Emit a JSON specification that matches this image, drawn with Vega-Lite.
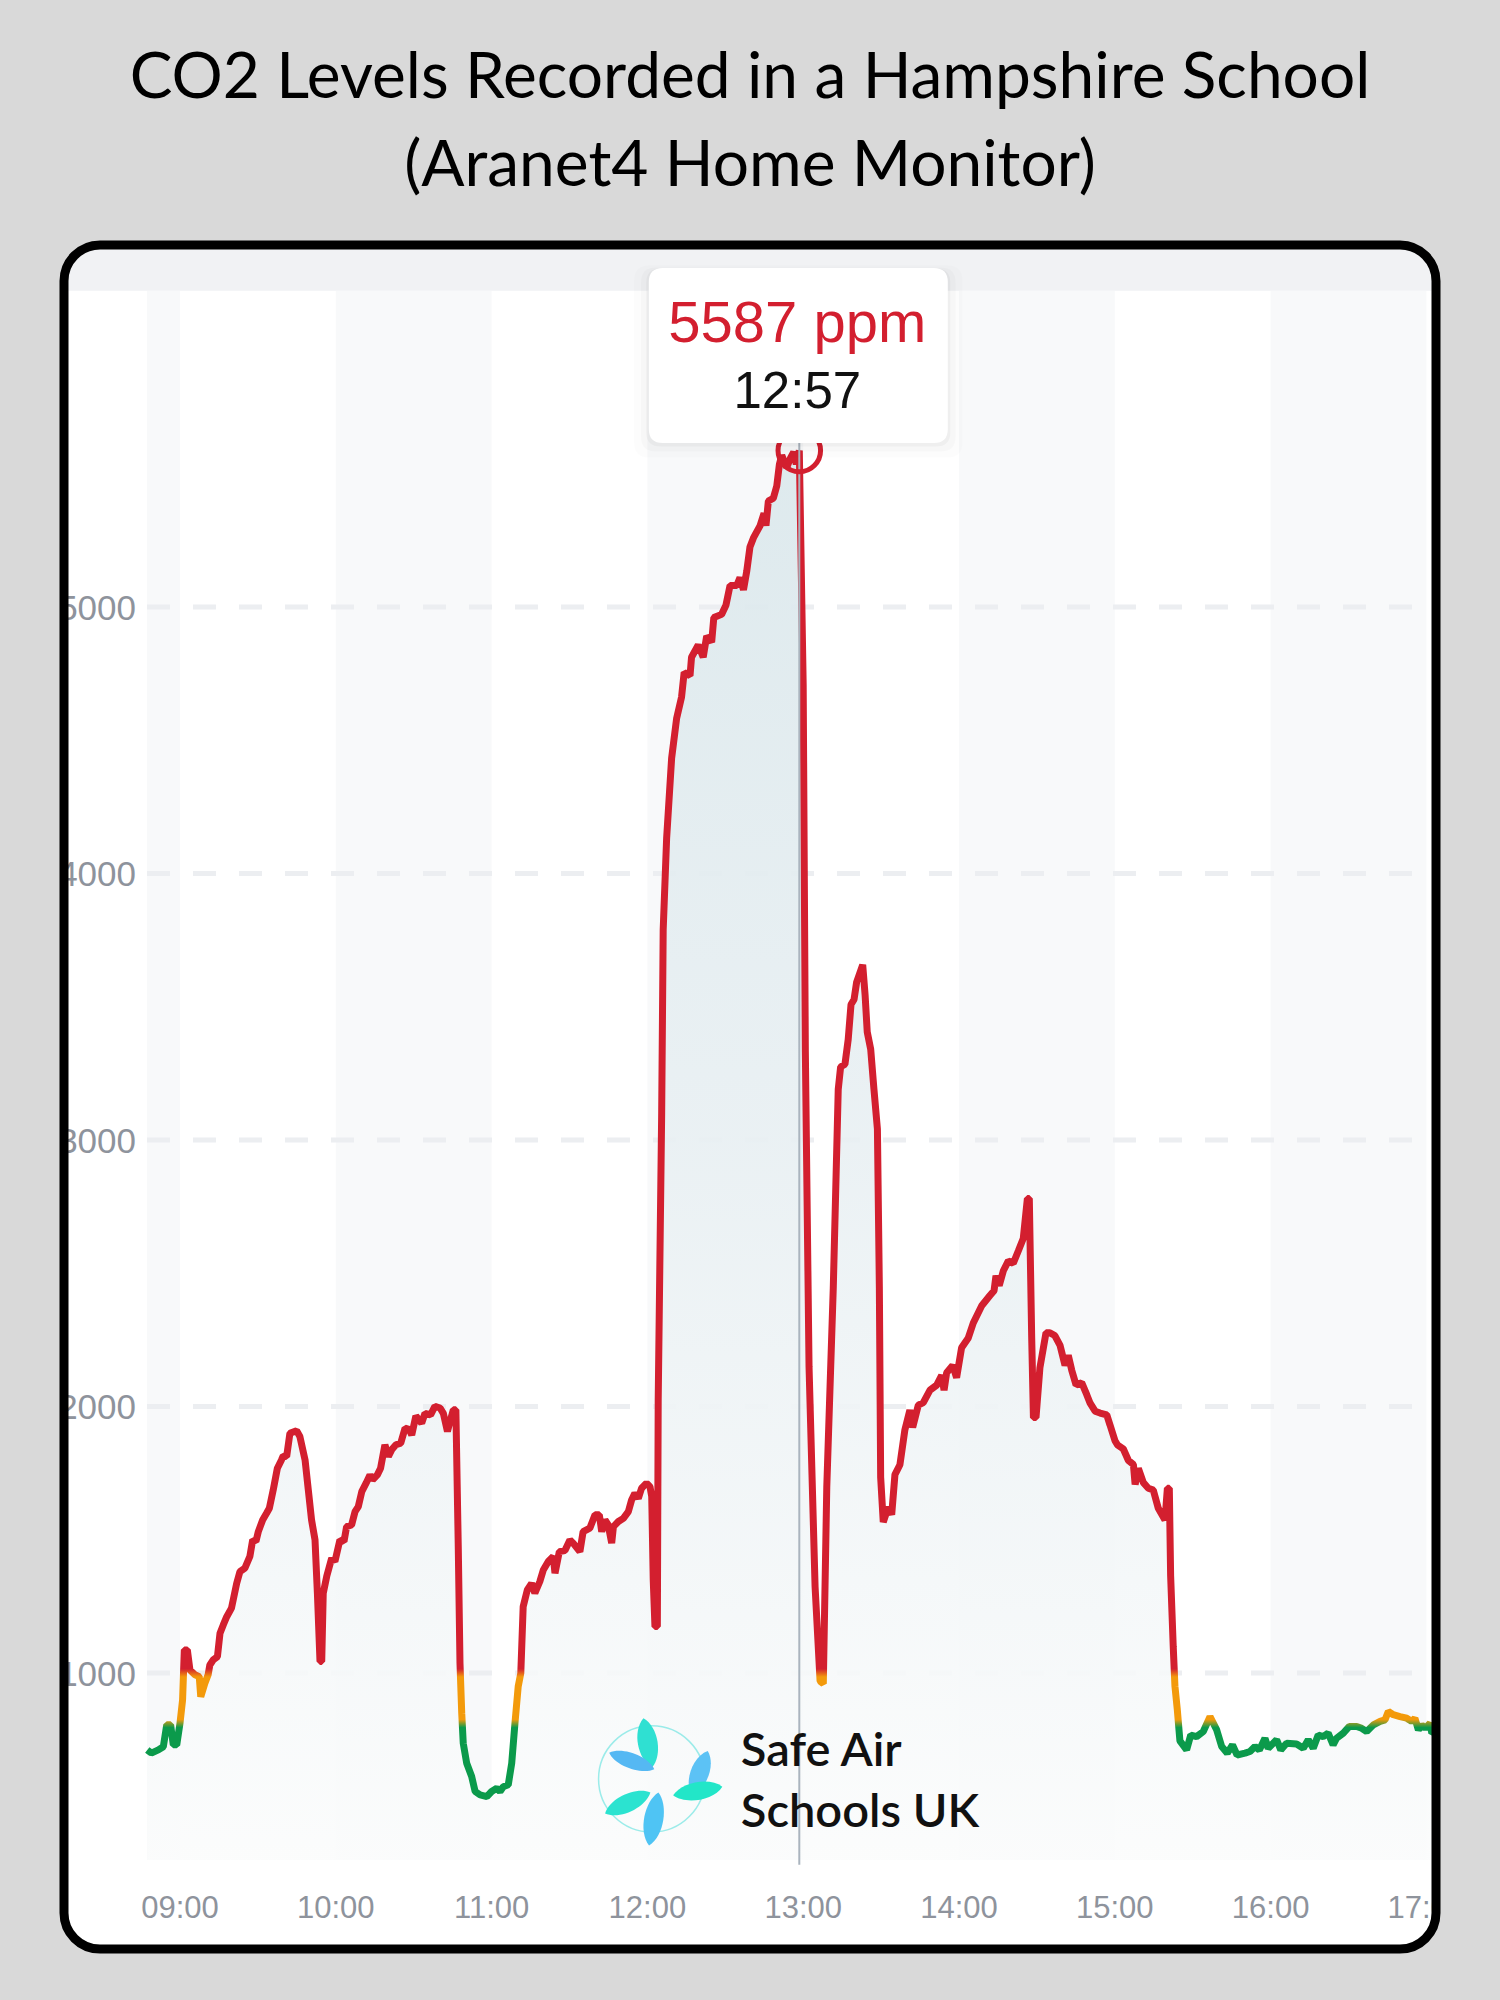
{
  "$schema": "https://vega.github.io/schema/vega-lite/v6.json",
  "description": "CO2 levels recorded in a Hampshire school, Aranet4 home monitor screenshot",
  "width": 1372,
  "height": 1704,
  "autosize": {"type": "none"},
  "padding": {"left": 64, "top": 245, "right": 64, "bottom": 51},
  "background": "#d9d9d9",
  "title": {
    "text": ["CO2 Levels Recorded in a Hampshire School", "(Aranet4 Home Monitor)"],
    "font": "Lato",
    "fontSize": 64,
    "fontWeight": "normal",
    "color": "#000000",
    "lineHeight": 88,
    "anchor": "middle",
    "frame": "group",
    "baseline": "bottom",
    "offset": -22
  },
  "layer": [
    {
      "data": {
        "values": [
          {"start": "08:47:17", "end": "09:00:00"},
          {"start": "10:00:00", "end": "11:00:00"},
          {"start": "12:00:00", "end": "13:00:00"},
          {"start": "14:00:00", "end": "15:00:00"},
          {"start": "16:00:00", "end": "17:00:00"}
        ],
        "format": {"parse": {"start": "date:'%H:%M:%S'", "end": "date:'%H:%M:%S'"}}
      },
      "mark": {"type": "rect", "color": "#f8f9fa"},
      "encoding": {
        "x": {"field": "start", "type": "temporal"},
        "x2": {"field": "end"},
        "y": {"datum": 298},
        "y2": {"datum": 6186}
      }
    },
    {
      "data": {"values": [{}]},
      "mark": {"type": "rect", "color": "#f1f2f4", "cornerRadiusTopLeft": 32, "cornerRadiusTopRight": 32},
      "encoding": {
        "x": {"datum": {"year": 1900, "month": 1, "date": 1, "hours": 8, "minutes": 16, "seconds": 52}},
        "x2": {"datum": {"year": 1900, "month": 1, "date": 1, "hours": 17, "minutes": 2, "seconds": 9}},
        "y": {"datum": 6186},
        "y2": {"datum": 6343}
      }
    },
    {
      "data": {"values": [{"ppm": 1000}, {"ppm": 2000}, {"ppm": 3000}, {"ppm": 4000}, {"ppm": 5000}]},
      "mark": {"type": "rule", "color": "#eceef1", "strokeWidth": 5, "strokeDash": [23, 23]},
      "encoding": {
        "x": {"datum": {"year": 1900, "month": 1, "date": 1, "hours": 8, "minutes": 47, "seconds": 17}},
        "x2": {"datum": {"year": 1900, "month": 1, "date": 1, "hours": 17, "minutes": 3, "seconds": 0}},
        "y": {"field": "ppm", "type": "quantitative"}
      }
    },
    {
      "data": {
        "values": [
          {"t": "08:47:24", "ppm": 711}, {"t": "08:48:58", "ppm": 699}, {"t": "08:51:40", "ppm": 711},
          {"t": "08:53:35", "ppm": 723}, {"t": "08:54:54", "ppm": 805}, {"t": "08:56:24", "ppm": 805},
          {"t": "08:57:25", "ppm": 730}, {"t": "08:58:45", "ppm": 730}, {"t": "09:00:00", "ppm": 811},
          {"t": "09:01:00", "ppm": 899}, {"t": "09:01:40", "ppm": 1086}, {"t": "09:02:50", "ppm": 1086},
          {"t": "09:03:50", "ppm": 1011}, {"t": "09:05:45", "ppm": 993}, {"t": "09:07:25", "ppm": 986},
          {"t": "09:08:00", "ppm": 911}, {"t": "09:09:35", "ppm": 961}, {"t": "09:10:50", "ppm": 993},
          {"t": "09:11:30", "ppm": 1030}, {"t": "09:12:50", "ppm": 1049}, {"t": "09:14:25", "ppm": 1061},
          {"t": "09:15:25", "ppm": 1149}, {"t": "09:16:40", "ppm": 1180}, {"t": "09:18:00", "ppm": 1211},
          {"t": "09:19:50", "ppm": 1243}, {"t": "09:21:50", "ppm": 1336}, {"t": "09:23:05", "ppm": 1380},
          {"t": "09:25:00", "ppm": 1393}, {"t": "09:26:55", "ppm": 1437}, {"t": "09:28:00", "ppm": 1499},
          {"t": "09:29:15", "ppm": 1493}, {"t": "09:30:10", "ppm": 1530}, {"t": "09:31:50", "ppm": 1574},
          {"t": "09:33:20", "ppm": 1599}, {"t": "09:34:25", "ppm": 1618}, {"t": "09:35:55", "ppm": 1687},
          {"t": "09:37:30", "ppm": 1768}, {"t": "09:39:05", "ppm": 1799}, {"t": "09:39:45", "ppm": 1814},
          {"t": "09:41:05", "ppm": 1812}, {"t": "09:42:20", "ppm": 1899}, {"t": "09:44:55", "ppm": 1909},
          {"t": "09:46:10", "ppm": 1887}, {"t": "09:48:10", "ppm": 1799}, {"t": "09:49:25", "ppm": 1687},
          {"t": "09:50:40", "ppm": 1574}, {"t": "09:52:00", "ppm": 1499}, {"t": "09:52:55", "ppm": 1299},
          {"t": "09:53:55", "ppm": 1043}, {"t": "09:54:35", "ppm": 1043}, {"t": "09:55:10", "ppm": 1299},
          {"t": "09:56:30", "ppm": 1362}, {"t": "09:58:25", "ppm": 1431}, {"t": "09:59:40", "ppm": 1418},
          {"t": "10:01:35", "ppm": 1499}, {"t": "10:03:10", "ppm": 1493}, {"t": "10:04:10", "ppm": 1549},
          {"t": "10:06:05", "ppm": 1555}, {"t": "10:07:25", "ppm": 1605}, {"t": "10:08:40", "ppm": 1624},
          {"t": "10:10:00", "ppm": 1680}, {"t": "10:11:40", "ppm": 1712}, {"t": "10:13:10", "ppm": 1743},
          {"t": "10:14:10", "ppm": 1724}, {"t": "10:16:00", "ppm": 1743}, {"t": "10:17:15", "ppm": 1768},
          {"t": "10:18:55", "ppm": 1856}, {"t": "10:20:15", "ppm": 1812}, {"t": "10:21:30", "ppm": 1837},
          {"t": "10:23:10", "ppm": 1856}, {"t": "10:25:00", "ppm": 1862}, {"t": "10:26:40", "ppm": 1918},
          {"t": "10:28:15", "ppm": 1914}, {"t": "10:29:15", "ppm": 1893}, {"t": "10:30:50", "ppm": 1964},
          {"t": "10:33:05", "ppm": 1937}, {"t": "10:34:20", "ppm": 1974}, {"t": "10:36:30", "ppm": 1968},
          {"t": "10:38:10", "ppm": 2000}, {"t": "10:40:10", "ppm": 1994}, {"t": "10:41:25", "ppm": 1974},
          {"t": "10:43:00", "ppm": 1906}, {"t": "10:44:00", "ppm": 1943}, {"t": "10:45:15", "ppm": 1987},
          {"t": "10:46:15", "ppm": 1987}, {"t": "10:47:10", "ppm": 1474}, {"t": "10:47:50", "ppm": 1036},
          {"t": "10:48:30", "ppm": 849}, {"t": "10:49:05", "ppm": 736}, {"t": "10:50:25", "ppm": 661},
          {"t": "10:52:20", "ppm": 611}, {"t": "10:53:40", "ppm": 555}, {"t": "10:55:35", "ppm": 542},
          {"t": "10:58:10", "ppm": 536}, {"t": "11:00:00", "ppm": 555}, {"t": "11:02:00", "ppm": 567},
          {"t": "11:03:15", "ppm": 555}, {"t": "11:04:30", "ppm": 573}, {"t": "11:06:25", "ppm": 580},
          {"t": "11:07:45", "ppm": 661}, {"t": "11:09:00", "ppm": 811}, {"t": "11:10:15", "ppm": 949},
          {"t": "11:11:15", "ppm": 999}, {"t": "11:12:10", "ppm": 1249}, {"t": "11:13:45", "ppm": 1311},
          {"t": "11:15:25", "ppm": 1336}, {"t": "11:16:40", "ppm": 1299}, {"t": "11:18:35", "ppm": 1343},
          {"t": "11:19:55", "ppm": 1386}, {"t": "11:21:50", "ppm": 1418}, {"t": "11:23:45", "ppm": 1437},
          {"t": "11:24:25", "ppm": 1374}, {"t": "11:26:05", "ppm": 1455}, {"t": "11:28:15", "ppm": 1459},
          {"t": "11:30:10", "ppm": 1499}, {"t": "11:31:25", "ppm": 1487}, {"t": "11:34:00", "ppm": 1455},
          {"t": "11:35:15", "ppm": 1530}, {"t": "11:37:50", "ppm": 1543}, {"t": "11:39:50", "ppm": 1593},
          {"t": "11:41:30", "ppm": 1593}, {"t": "11:42:25", "ppm": 1530}, {"t": "11:43:40", "ppm": 1574},
          {"t": "11:44:55", "ppm": 1555}, {"t": "11:46:15", "ppm": 1487}, {"t": "11:46:55", "ppm": 1549},
          {"t": "11:48:50", "ppm": 1568}, {"t": "11:50:45", "ppm": 1580}, {"t": "11:52:40", "ppm": 1605},
          {"t": "11:53:55", "ppm": 1649}, {"t": "11:55:10", "ppm": 1674}, {"t": "11:56:30", "ppm": 1655},
          {"t": "11:57:45", "ppm": 1693}, {"t": "11:59:40", "ppm": 1712}, {"t": "12:01:00", "ppm": 1699},
          {"t": "12:01:40", "ppm": 1662}, {"t": "12:02:15", "ppm": 1349}, {"t": "12:02:55", "ppm": 1174},
          {"t": "12:03:50", "ppm": 1174}, {"t": "12:04:10", "ppm": 2024}, {"t": "12:05:30", "ppm": 3099},
          {"t": "12:06:05", "ppm": 3788}, {"t": "12:07:25", "ppm": 4133}, {"t": "12:09:20", "ppm": 4432},
          {"t": "12:11:15", "ppm": 4581}, {"t": "12:13:10", "ppm": 4662}, {"t": "12:14:10", "ppm": 4754},
          {"t": "12:16:25", "ppm": 4742}, {"t": "12:17:00", "ppm": 4811}, {"t": "12:19:35", "ppm": 4857},
          {"t": "12:21:30", "ppm": 4811}, {"t": "12:22:50", "ppm": 4891}, {"t": "12:24:45", "ppm": 4868},
          {"t": "12:25:35", "ppm": 4960}, {"t": "12:28:35", "ppm": 4972}, {"t": "12:30:15", "ppm": 5006},
          {"t": "12:31:50", "ppm": 5080}, {"t": "12:34:25", "ppm": 5080}, {"t": "12:35:40", "ppm": 5110},
          {"t": "12:37:00", "ppm": 5064}, {"t": "12:38:15", "ppm": 5133}, {"t": "12:39:30", "ppm": 5225},
          {"t": "12:40:50", "ppm": 5259}, {"t": "12:43:25", "ppm": 5305}, {"t": "12:44:55", "ppm": 5351},
          {"t": "12:45:40", "ppm": 5305}, {"t": "12:46:35", "ppm": 5397}, {"t": "12:48:30", "ppm": 5408},
          {"t": "12:49:50", "ppm": 5454}, {"t": "12:50:50", "ppm": 5535}, {"t": "12:51:45", "ppm": 5569},
          {"t": "12:53:40", "ppm": 5523}, {"t": "12:55:05", "ppm": 5558}, {"t": "12:56:20", "ppm": 5581},
          {"t": "12:57:20", "ppm": 5535}, {"t": "12:58:30", "ppm": 5587}, {"t": "13:00:00", "ppm": 4707},
          {"t": "13:00:50", "ppm": 3330}, {"t": "13:02:15", "ppm": 2150}, {"t": "13:04:35", "ppm": 1323},
          {"t": "13:06:30", "ppm": 969}, {"t": "13:07:45", "ppm": 960}, {"t": "13:09:05", "ppm": 1697},
          {"t": "13:11:35", "ppm": 2444}, {"t": "13:13:30", "ppm": 3190}, {"t": "13:14:25", "ppm": 3274},
          {"t": "13:16:05", "ppm": 3284}, {"t": "13:17:20", "ppm": 3377}, {"t": "13:18:25", "ppm": 3508},
          {"t": "13:19:35", "ppm": 3527}, {"t": "13:20:35", "ppm": 3592}, {"t": "13:22:55", "ppm": 3657},
          {"t": "13:23:50", "ppm": 3545}, {"t": "13:24:40", "ppm": 3405}, {"t": "13:26:00", "ppm": 3340},
          {"t": "13:27:15", "ppm": 3190}, {"t": "13:28:35", "ppm": 3041}, {"t": "13:29:20", "ppm": 2444},
          {"t": "13:29:50", "ppm": 1734}, {"t": "13:30:50", "ppm": 1566}, {"t": "13:32:45", "ppm": 1622},
          {"t": "13:34:05", "ppm": 1594}, {"t": "13:35:20", "ppm": 1744}, {"t": "13:37:15", "ppm": 1781},
          {"t": "13:39:10", "ppm": 1912}, {"t": "13:41:05", "ppm": 1986}, {"t": "13:42:10", "ppm": 1921},
          {"t": "13:44:20", "ppm": 2005}, {"t": "13:46:15", "ppm": 2014}, {"t": "13:48:50", "ppm": 2061},
          {"t": "13:51:25", "ppm": 2080}, {"t": "13:53:20", "ppm": 2117}, {"t": "13:54:15", "ppm": 2061},
          {"t": "13:55:15", "ppm": 2126}, {"t": "13:57:35", "ppm": 2154}, {"t": "13:59:05", "ppm": 2108},
          {"t": "14:01:00", "ppm": 2220}, {"t": "14:03:35", "ppm": 2257}, {"t": "14:05:30", "ppm": 2313},
          {"t": "14:08:45", "ppm": 2378}, {"t": "14:11:55", "ppm": 2416}, {"t": "14:13:30", "ppm": 2434},
          {"t": "14:14:15", "ppm": 2490}, {"t": "14:15:30", "ppm": 2453}, {"t": "14:17:05", "ppm": 2509},
          {"t": "14:19:00", "ppm": 2546}, {"t": "14:20:55", "ppm": 2537}, {"t": "14:22:50", "ppm": 2583},
          {"t": "14:24:45", "ppm": 2630}, {"t": "14:26:20", "ppm": 2780}, {"t": "14:27:05", "ppm": 2780},
          {"t": "14:28:00", "ppm": 2257}, {"t": "14:28:40", "ppm": 1958}, {"t": "14:29:40", "ppm": 1958},
          {"t": "14:31:10", "ppm": 2145}, {"t": "14:33:30", "ppm": 2276}, {"t": "14:35:00", "ppm": 2276},
          {"t": "14:36:55", "ppm": 2266}, {"t": "14:38:55", "ppm": 2229}, {"t": "14:40:50", "ppm": 2154},
          {"t": "14:42:05", "ppm": 2192}, {"t": "14:43:25", "ppm": 2136}, {"t": "14:45:05", "ppm": 2080},
          {"t": "14:47:15", "ppm": 2089}, {"t": "14:49:10", "ppm": 2045}, {"t": "14:50:30", "ppm": 2012},
          {"t": "14:52:25", "ppm": 1982}, {"t": "14:54:20", "ppm": 1975}, {"t": "14:56:55", "ppm": 1968},
          {"t": "14:58:10", "ppm": 1930}, {"t": "15:00:05", "ppm": 1871}, {"t": "15:01:00", "ppm": 1856},
          {"t": "15:03:15", "ppm": 1841}, {"t": "15:05:15", "ppm": 1797}, {"t": "15:07:10", "ppm": 1782},
          {"t": "15:07:50", "ppm": 1707}, {"t": "15:09:05", "ppm": 1767}, {"t": "15:11:00", "ppm": 1714},
          {"t": "15:12:55", "ppm": 1693}, {"t": "15:14:50", "ppm": 1686}, {"t": "15:16:45", "ppm": 1618},
          {"t": "15:19:20", "ppm": 1574}, {"t": "15:20:15", "ppm": 1693}, {"t": "15:21:00", "ppm": 1693},
          {"t": "15:21:30", "ppm": 1366}, {"t": "15:22:30", "ppm": 1100}, {"t": "15:23:10", "ppm": 950},
          {"t": "15:24:05", "ppm": 861}, {"t": "15:25:05", "ppm": 745}, {"t": "15:27:40", "ppm": 711},
          {"t": "15:29:15", "ppm": 767}, {"t": "15:31:30", "ppm": 761}, {"t": "15:34:05", "ppm": 780},
          {"t": "15:36:40", "ppm": 836}, {"t": "15:39:15", "ppm": 786}, {"t": "15:41:10", "ppm": 724},
          {"t": "15:43:20", "ppm": 699}, {"t": "15:45:20", "ppm": 730}, {"t": "15:47:05", "ppm": 692},
          {"t": "15:50:10", "ppm": 699}, {"t": "15:52:05", "ppm": 705}, {"t": "15:54:00", "ppm": 724},
          {"t": "15:55:40", "ppm": 711}, {"t": "15:57:50", "ppm": 755}, {"t": "15:59:05", "ppm": 717},
          {"t": "16:02:20", "ppm": 749}, {"t": "16:03:55", "ppm": 711}, {"t": "16:06:10", "ppm": 736},
          {"t": "16:10:00", "ppm": 733}, {"t": "16:12:35", "ppm": 717}, {"t": "16:14:30", "ppm": 749},
          {"t": "16:16:25", "ppm": 717}, {"t": "16:18:20", "ppm": 767}, {"t": "16:20:15", "ppm": 761},
          {"t": "16:22:10", "ppm": 774}, {"t": "16:24:05", "ppm": 730}, {"t": "16:25:25", "ppm": 755},
          {"t": "16:28:00", "ppm": 774}, {"t": "16:30:20", "ppm": 799}, {"t": "16:33:10", "ppm": 799},
          {"t": "16:35:05", "ppm": 792}, {"t": "16:37:00", "ppm": 780}, {"t": "16:39:35", "ppm": 805},
          {"t": "16:42:10", "ppm": 818}, {"t": "16:44:05", "ppm": 824}, {"t": "16:45:20", "ppm": 855},
          {"t": "16:47:15", "ppm": 843}, {"t": "16:49:50", "ppm": 836}, {"t": "16:52:25", "ppm": 830},
          {"t": "16:54:20", "ppm": 818}, {"t": "16:55:35", "ppm": 830}, {"t": "16:56:55", "ppm": 786},
          {"t": "16:58:10", "ppm": 805}, {"t": "16:59:30", "ppm": 792}, {"t": "17:01:25", "ppm": 811},
          {"t": "17:02:05", "ppm": 774}, {"t": "17:03:30", "ppm": 780}
        ],
        "format": {"parse": {"t": "date:'%H:%M:%S'"}}
      },
      "encoding": {
        "x": {
          "field": "t",
          "type": "temporal",
          "scale": {
            "domain": [
              {"year": 1900, "month": 1, "date": 1, "hours": 8, "minutes": 15, "seconds": 20},
              {"year": 1900, "month": 1, "date": 1, "hours": 17, "minutes": 3, "seconds": 42}
            ]
          }
        },
        "y": {
          "field": "ppm",
          "type": "quantitative",
          "scale": {"domain": [-36, 6358], "nice": false, "zero": false}
        }
      },
      "layer": [
        {
          "mark": {
            "type": "area",
            "clip": true,
            "fillOpacity": 0.9,
            "color": {
              "gradient": "linear",
              "x1": 0, "y1": 0, "x2": 0, "y2": 1,
              "stops": [
                {"offset": 0, "color": "#dbe8ec"},
                {"offset": 0.5, "color": "#e9f0f3"},
                {"offset": 1, "color": "#fbfcfc"}
              ]
            }
          },
          "encoding": {"y2": {"datum": 298}}
        },
        {
          "mark": {
            "type": "line",
            "clip": true,
            "strokeWidth": 7,
            "strokeJoin": "bevel",
            "color": {
              "gradient": "linear",
              "x1": 0, "y1": 0, "x2": 0, "y2": 1,
              "stops": [
                {"offset": 0, "color": "#d31f2f"},
                {"offset": 0.9051, "color": "#d31f2f"},
                {"offset": 0.9111, "color": "#f39a0b"},
                {"offset": 0.9427, "color": "#f39a0b"},
                {"offset": 0.9487, "color": "#0b9a4b"},
                {"offset": 1, "color": "#0b9a4b"}
              ]
            }
          }
        }
      ]
    },
    {
      "data": {"values": [{}]},
      "mark": {"type": "rule", "color": "#aab4be", "strokeWidth": 2},
      "encoding": {
        "x": {"datum": {"year": 1900, "month": 1, "date": 1, "hours": 12, "minutes": 58, "seconds": 30}},
        "y": {"datum": 280},
        "y2": {"datum": 6186}
      }
    },
    {
      "data": {"values": [{}]},
      "mark": {"type": "point", "shape": "circle", "size": 1810, "filled": false, "color": "#d31f2f", "strokeWidth": 5, "opacity": 1},
      "encoding": {
        "x": {"datum": {"year": 1900, "month": 1, "date": 1, "hours": 12, "minutes": 58, "seconds": 30}},
        "y": {"datum": 5587}
      }
    },
    {
      "data": {
        "values": [
          {"t": "09:00:00"}, {"t": "10:00:00"}, {"t": "11:00:00"}, {"t": "12:00:00"}, {"t": "13:00:00"},
          {"t": "14:00:00"}, {"t": "15:00:00"}, {"t": "16:00:00"}, {"t": "17:00:00"}
        ],
        "format": {"parse": {"t": "date:'%H:%M:%S'"}}
      },
      "mark": {"type": "text", "clip": true, "font": "Liberation Sans", "fontSize": 31, "color": "#8e939c", "align": "center", "baseline": "middle"},
      "encoding": {
        "x": {"field": "t", "type": "temporal"},
        "y": {"datum": 115},
        "text": {"field": "t", "type": "temporal", "format": "%H:%M"}
      }
    },
    {
      "data": {"values": [{"ppm": 1000}, {"ppm": 2000}, {"ppm": 3000}, {"ppm": 4000}, {"ppm": 5000}]},
      "mark": {"type": "text", "clip": true, "font": "Liberation Sans", "fontSize": 35, "color": "#8e939c", "align": "right", "baseline": "middle", "dy": 2},
      "encoding": {
        "x": {"datum": {"year": 1900, "month": 1, "date": 1, "hours": 8, "minutes": 43, "seconds": 4}},
        "y": {"field": "ppm", "type": "quantitative"},
        "text": {"field": "ppm", "type": "quantitative", "format": "d"}
      }
    },
    {
      "data": {"values": [{}]},
      "encoding": {
        "x": {"datum": {"year": 1900, "month": 1, "date": 1, "hours": 12, "minutes": 1, "seconds": 40}},
        "y": {"datum": 602}
      },
      "layer": [
        {"mark": {"type": "point", "shape": "circle", "size": 11300, "filled": false, "color": "#4fe0dc", "strokeWidth": 1.5, "opacity": 0.55}},
        {"mark": {"type": "point", "filled": true, "size": 2500, "color": "#2fe0d2", "opacity": 1, "angle": -10, "xOffset": -4, "yOffset": -36, "shape": "M0,-1 C0.55,-0.55 0.5,0.6 0,1 C-0.5,0.6 -0.55,-0.55 0,-1 Z"}},
        {"mark": {"type": "point", "filled": true, "size": 2300, "color": "#55b8f3", "opacity": 1, "angle": -70, "xOffset": -20, "yOffset": -18, "shape": "M0,-1 C0.45,-0.55 0.4,0.6 0,1 C-0.4,0.6 -0.45,-0.55 0,-1 Z"}},
        {"mark": {"type": "point", "filled": true, "size": 2200, "color": "#5cc2f5", "opacity": 1, "angle": 20, "xOffset": 48, "yOffset": -6, "shape": "M0,-1 C0.55,-0.55 0.5,0.6 0,1 C-0.5,0.6 -0.55,-0.55 0,-1 Z"}},
        {"mark": {"type": "point", "filled": true, "size": 2500, "color": "#22e6c8", "opacity": 1, "angle": 80, "xOffset": 46, "yOffset": 12, "shape": "M0,-1 C0.5,-0.55 0.45,0.6 0,1 C-0.45,0.6 -0.5,-0.55 0,-1 Z"}},
        {"mark": {"type": "point", "filled": true, "size": 2500, "color": "#2be3d0", "opacity": 1, "angle": -115, "xOffset": -24, "yOffset": 24, "shape": "M0,-1 C0.5,-0.55 0.45,0.6 0,1 C-0.45,0.6 -0.5,-0.55 0,-1 Z"}},
        {"mark": {"type": "point", "filled": true, "size": 2900, "color": "#4fc4f4", "opacity": 1, "angle": 190, "xOffset": 2, "yOffset": 40, "shape": "M0,-1 C0.5,-0.55 0.45,0.6 0,1 C-0.45,0.6 -0.5,-0.55 0,-1 Z"}}
      ]
    },
    {
      "data": {"values": [{}]},
      "mark": {"type": "text", "text": ["Safe Air", "Schools UK"], "font": "Lato", "fontSize": 47, "fontWeight": 600, "color": "#111111", "align": "left", "baseline": "top", "lineHeight": 61},
      "encoding": {
        "x": {"datum": {"year": 1900, "month": 1, "date": 1, "hours": 12, "minutes": 36, "seconds": 0}},
        "y": {"datum": 790}
      }
    },
    {
      "data": {"values": [{}]},
      "encoding": {
        "x": {"datum": {"year": 1900, "month": 1, "date": 1, "hours": 12, "minutes": 58, "seconds": 30}},
        "y": {"datum": 5587}
      },
      "layer": [
        {"mark": {"type": "point", "filled": true, "color": "#000000", "opacity": 0.012, "size": 108000, "xOffset": -1, "yOffset": -89, "shape": "M-0.906,-0.585 L0.906,-0.585 Q1,-0.585 1,-0.491 L1,0.491 Q1,0.585 0.906,0.585 L-0.906,0.585 Q-1,0.585 -1,0.491 L-1,-0.491 Q-1,-0.585 -0.906,-0.585 Z"}},
        {"mark": {"type": "point", "filled": true, "color": "#000000", "opacity": 0.018, "size": 99000, "xOffset": -1, "yOffset": -91, "shape": "M-0.906,-0.585 L0.906,-0.585 Q1,-0.585 1,-0.491 L1,0.491 Q1,0.585 0.906,0.585 L-0.906,0.585 Q-1,0.585 -1,0.491 L-1,-0.491 Q-1,-0.585 -0.906,-0.585 Z"}},
        {"mark": {"type": "point", "filled": true, "color": "#000000", "opacity": 0.03, "size": 92500, "xOffset": -1, "yOffset": -93, "shape": "M-0.906,-0.585 L0.906,-0.585 Q1,-0.585 1,-0.491 L1,0.491 Q1,0.585 0.906,0.585 L-0.906,0.585 Q-1,0.585 -1,0.491 L-1,-0.491 Q-1,-0.585 -0.906,-0.585 Z"}},
        {"mark": {"type": "point", "filled": true, "color": "#ffffff", "opacity": 1, "size": 89401, "xOffset": -1, "yOffset": -95, "shape": "M-0.906,-0.585 L0.906,-0.585 Q1,-0.585 1,-0.491 L1,0.491 Q1,0.585 0.906,0.585 L-0.906,0.585 Q-1,0.585 -1,0.491 L-1,-0.491 Q-1,-0.585 -0.906,-0.585 Z"}},
        {"mark": {"type": "text", "text": "5587 ppm", "font": "Liberation Sans", "fontSize": 58, "color": "#d31f2f", "align": "center", "baseline": "alphabetic", "dx": -2, "dy": -108}},
        {"mark": {"type": "text", "text": "12:57", "font": "Liberation Sans", "fontSize": 51, "color": "#111111", "align": "center", "baseline": "alphabetic", "dx": -2, "dy": -42}}
      ]
    },
    {
      "data": {"values": [{}]},
      "mark": {"type": "rect", "filled": false, "stroke": "#000000", "strokeWidth": 9, "cornerRadius": 36},
      "encoding": {
        "x": {"datum": {"year": 1900, "month": 1, "date": 1, "hours": 8, "minutes": 15, "seconds": 20}},
        "x2": {"datum": {"year": 1900, "month": 1, "date": 1, "hours": 17, "minutes": 3, "seconds": 42}},
        "y": {"datum": -36},
        "y2": {"datum": 6358}
      }
    }
  ],
  "config": {
    "view": {"fill": "#ffffff", "stroke": null, "cornerRadius": 36},
    "axis": {"disable": true},
    "legend": {"disable": true}
  }
}
